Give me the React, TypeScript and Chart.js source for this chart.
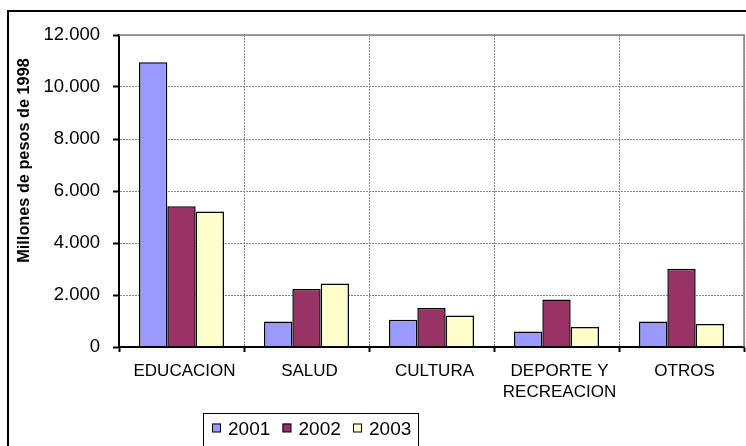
import React, { useEffect, useRef } from "react";
import { Chart, registerables } from "chart.js";

Chart.register(...registerables);

const categories: (string | string[])[] = ["EDUCACION", "SALUD", "CULTURA", ["DEPORTE Y", "RECREACION"], "OTROS"];
const seriesLabels = ["2001", "2002", "2003"];
const values2001 = [10950, 985, 1050, 600, 985];
const values2002 = [5410, 2230, 1500, 1830, 3010];
const values2003 = [5215, 2445, 1215, 770, 885];
const seriesColors = ["#9999FF", "#993366", "#FFFFCC"];
const yAxisTitle = "Millones de pesos de 1998";
const yMin = 0;
const yMax = 12000;
const yStep = 2000;

const FONT = '"Liberation Sans", Arial, sans-serif';

function fmt(v: number): string {
  return String(Math.round(v)).replace(/\B(?=(\d{3})+(?!\d))/g, ".");
}

const decorPlugin = {
  id: "decor",
  beforeDraw(chart: any) {
    const ctx = chart.ctx;
    ctx.save();
    ctx.fillStyle = "#ffffff";
    ctx.fillRect(0, 0, chart.width, chart.height);
    ctx.restore();
  },
  afterDraw(chart: any) {
    const ctx = chart.ctx;
    const a = chart.chartArea;
    ctx.save();
    // plot frame (grey top & right)
    ctx.strokeStyle = "#808080";
    ctx.lineWidth = 1.5;
    ctx.beginPath();
    ctx.moveTo(a.left, a.top);
    ctx.lineTo(a.right, a.top);
    ctx.lineTo(a.right, a.bottom);
    ctx.stroke();
    // outer frame (left & top)
    ctx.fillStyle = "#000";
    ctx.fillRect(7, 10, 2, chart.height);
    ctx.fillRect(7, 10, chart.width, 2);
    // y title
    ctx.translate(25, 160.5);
    ctx.rotate(-Math.PI / 2);
    ctx.font = `bold 16.3px ${FONT}`;
    ctx.textAlign = "center";
    ctx.textBaseline = "middle";
    ctx.fillStyle = "#000";
    ctx.fillText(yAxisTitle, 0, 0);
    ctx.restore();

    // legend
    ctx.save();
    ctx.strokeStyle = "#000";
    ctx.lineWidth = 1;
    ctx.strokeRect(203.5, 413.5, 215, 60);
    ctx.font = `19px ${FONT}`;
    ctx.textBaseline = "middle";
    ctx.textAlign = "left";
    let x = 212;
    chart.data.datasets.forEach((ds: any) => {
      ctx.fillStyle = ds.backgroundColor;
      ctx.fillRect(x, 423.5, 8.5, 8.5);
      ctx.strokeStyle = "#000";
      ctx.strokeRect(x + 0.5, 423.5 + 0.5, 8, 8);
      ctx.fillStyle = "#000";
      ctx.fillText(ds.label, x + 16, 430);
      x += 70.5;
    });
    ctx.restore();
  },
};

export default function App() {
  const ref = useRef<HTMLCanvasElement>(null);
  useEffect(() => {
    if (!ref.current) return;
    Chart.defaults.color = "#000";
    const chart = new Chart(ref.current, {
      type: "bar",
      data: {
        labels: categories,
        datasets: [values2001, values2002, values2003].map((vals, i) => ({
          label: seriesLabels[i],
          data: vals,
          backgroundColor: seriesColors[i],
          borderColor: "#000",
          borderWidth: 1.5,
          categoryPercentage: 0.68,
          barPercentage: 1,
        })),
      },
      options: {
        animation: false,
        responsive: false,
        maintainAspectRatio: false,
        events: [],
        layout: { padding: { top: 35, right: 2, left: 0, bottom: 0 } },
        plugins: {
          legend: { display: false },
          tooltip: { enabled: false },
          title: { display: false },
        },
        scales: {
          x: {
            offset: true,
            grid: {
              offset: true,
              color: "#888",
              lineWidth: 1,
              drawTicks: true,
              tickLength: 5,
              tickColor: "#000",
              tickWidth: 2,
              tickBorderDash: [],
            },
            border: { display: true, color: "#000", width: 2, dash: [2, 1], z: 1 },
            ticks: {
              font: { family: FONT, size: 17, lineHeight: 1.28 },
              color: "#000",
              padding: 8,
              labelOffset: 3,
              maxRotation: 0,
              minRotation: 0,
              autoSkip: false,
            },
            afterFit(scale: any) {
              scale.height = 99;
            },
          },
          y: {
            min: yMin,
            max: yMax,
            grid: {
              color: "#888",
              lineWidth: 1,
              drawTicks: true,
              tickLength: 6,
              tickColor: "#000",
              tickWidth: 2,
              tickBorderDash: [],
            },
            border: { display: true, color: "#000", width: 2, dash: [2, 1], z: 1 },
            ticks: {
              stepSize: yStep,
              font: { family: FONT, size: 18.5 },
              color: "#000",
              padding: 13,
              callback: (v: any) => fmt(Number(v)),
            },
            afterFit(scale: any) {
              scale.width = 119;
            },
          },
        },
      },
      plugins: [decorPlugin],
    });
    return () => chart.destroy();
  }, []);
  return (
    <div style={{ position: "fixed", left: 0, top: 0, width: 746, height: 446, overflow: "hidden", background: "#fff" }}>
      <canvas ref={ref} width={746} height={446} style={{ display: "block" }} />
    </div>
  );
}
